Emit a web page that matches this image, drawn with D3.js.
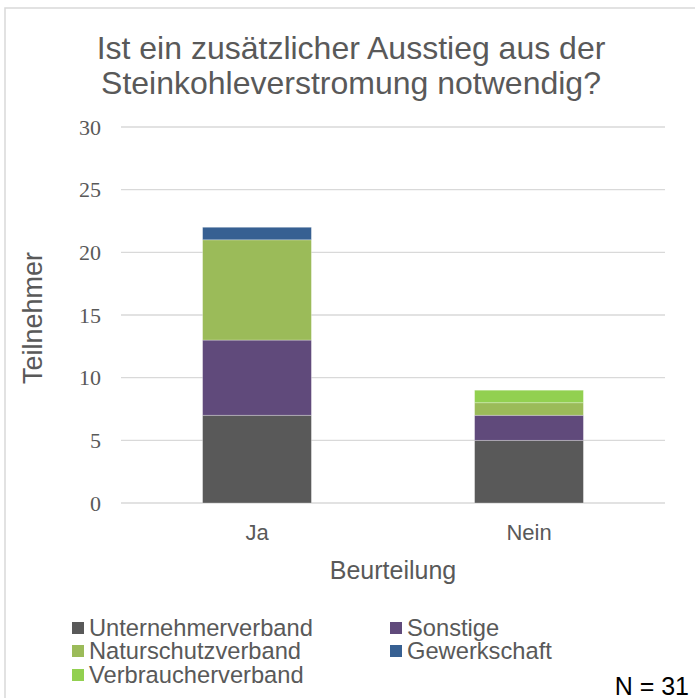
<!DOCTYPE html>
<html>
<head>
<meta charset="utf-8">
<script src="https://cdn.jsdelivr.net/npm/d3@7"></script>
<style>
  body { margin: 0; background: #fff; }
  svg { display: block; }
</style>
</head>
<body>
<svg id="chart" width="695" height="698"></svg>
<script>
// data
const categories = ["Ja", "Nein"];
const series = ["Unternehmerverband", "Sonstige", "Naturschutzverband", "Gewerkschaft", "Verbraucherverband"];
const unternehmerverband = [7, 5];
const sonstige = [6, 2];
const naturschutzverband = [8, 1];
const gewerkschaft = [1, 0];
const verbraucherverband = [0, 1];
const yTicks = [0, 5, 10, 15, 20, 25, 30];

const colors = ["#595959", "#604a7b", "#9bbb59", "#376092", "#92d050"];
const textColor = "#595959";

const rows = categories.map((c, i) => ({
    cat: c,
    Unternehmerverband: unternehmerverband[i],
    Sonstige: sonstige[i],
    Naturschutzverband: naturschutzverband[i],
    Gewerkschaft: gewerkschaft[i],
    Verbraucherverband: verbraucherverband[i]
}));

const svg = d3.select("#chart");
const plotL = 121, plotR = 665, plotT = 127, plotB = 503;

// outer frame (runs off the right / bottom edge in the reference)
svg.append("rect")
    .attr("x", 5).attr("y", 8)
    .attr("width", 720).attr("height", 720)
    .attr("fill", "none")
    .attr("stroke", "#d9d9d9")
    .attr("stroke-width", 1.5);

const x = d3.scaleBand().domain(categories).range([plotL, plotR])
    .paddingInner(0.6).paddingOuter(0.3);
const y = d3.scaleLinear().domain([0, 30]).range([plotB, plotT]);

// title
svg.append("text")
    .attr("text-anchor", "middle")
    .attr("font-family", "Liberation Sans, Arial, sans-serif")
    .attr("font-size", 32)
    .attr("fill", textColor)
    .selectAll("tspan").data(["Ist ein zusätzlicher Ausstieg aus der", "Steinkohleverstromung notwendig?"])
    .join("tspan")
    .attr("x", 351)
    .attr("y", (d, i) => 59 + i * 35)
    .text(d => d);

// gridlines
svg.append("g").selectAll("line").data(yTicks)
    .join("line")
    .attr("x1", plotL).attr("x2", plotR)
    .attr("y1", d => y(d)).attr("y2", d => y(d))
    .attr("stroke", "#d9d9d9")
    .attr("stroke-width", 1.3);

// y axis
const yAxis = svg.append("g")
    .attr("transform", `translate(${plotL},0)`)
    .call(d3.axisLeft(y).tickValues(yTicks).tickSize(0).tickPadding(20));
yAxis.select(".domain").remove();
yAxis.selectAll("text")
    .attr("font-family", "Liberation Serif, Times New Roman, serif")
    .attr("font-size", 22)
    .attr("fill", textColor);

// stacked bars
const stack = d3.stack().keys(series);
const layers = stack(rows);
svg.append("g").selectAll("g").data(layers)
    .join("g")
    .attr("fill", (d, i) => colors[i])
    .selectAll("rect").data(d => d.filter(s => s[1] > s[0]))
    .join("rect")
    .attr("x", d => x(d.data.cat))
    .attr("width", x.bandwidth())
    .attr("y", d => y(d[1]))
    .attr("height", d => y(d[0]) - y(d[1]))
    .attr("stroke", "#ffffff")
    .attr("stroke-opacity", 0.35)
    .attr("stroke-width", 0.8);

// x axis
const xAxis = svg.append("g")
    .attr("transform", `translate(0,${plotB})`)
    .call(d3.axisBottom(x).tickSize(0).tickPadding(21));
xAxis.select(".domain").remove();
xAxis.selectAll("text")
    .attr("font-family", "Liberation Sans, Arial, sans-serif")
    .attr("font-size", 22)
    .attr("fill", textColor);

// axis titles
svg.append("text")
    .attr("x", (plotL + plotR) / 2).attr("y", 579)
    .attr("text-anchor", "middle")
    .attr("font-family", "Liberation Sans, Arial, sans-serif")
    .attr("font-size", 25)
    .attr("fill", textColor)
    .text("Beurteilung");

svg.append("text")
    .attr("transform", `translate(42,${(plotT + plotB) / 2 + 3}) rotate(-90)`)
    .attr("text-anchor", "middle")
    .attr("font-family", "Liberation Sans, Arial, sans-serif")
    .attr("font-size", 27)
    .attr("fill", textColor)
    .text("Teilnehmer");

// legend
const legendPos = [[72, 636], [390, 636], [72, 659], [390, 659], [72, 683]];
const legend = svg.append("g").selectAll("g").data(series)
    .join("g")
    .attr("transform", (d, i) => `translate(${legendPos[i][0]},${legendPos[i][1]})`);
legend.append("rect")
    .attr("x", 0).attr("y", -14)
    .attr("width", 12).attr("height", 12)
    .attr("fill", (d, i) => colors[i]);
legend.append("text")
    .attr("x", 17).attr("y", 0)
    .attr("font-family", "Liberation Sans, Arial, sans-serif")
    .attr("font-size", 23.7)
    .attr("fill", textColor)
    .text(d => d);

svg.append("text")
    .attr("x", 689).attr("y", 695)
    .attr("text-anchor", "end")
    .attr("font-family", "Liberation Sans, Arial, sans-serif")
    .attr("font-size", 25)
    .attr("fill", "#000")
    .text("N = 31");
</script>
</body>
</html>
